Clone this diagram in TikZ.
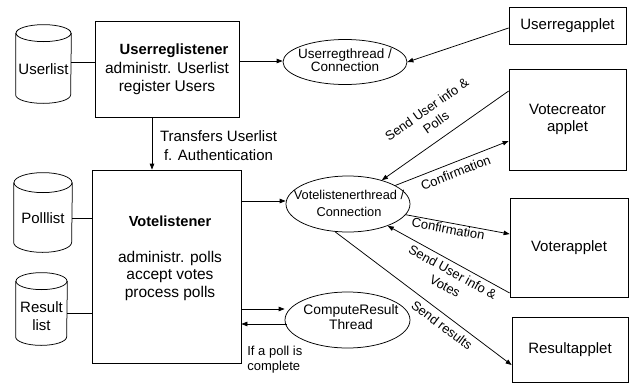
\documentclass[tikz,border=0pt]{standalone}
\usepackage{fontspec}
\setmainfont{Liberation Sans}
\usetikzlibrary{arrows.meta,shapes.geometric}
% cylinder: name, cx, cy(px, downwards), w, h, ry, text offset, text
\newcommand\dbcyl[8]{%
  \node[minimum width=#4pt, minimum height=#5pt, inner sep=0pt] (#1) at (#2,-#3) {};
  \draw ([yshift=-#6pt]#1.north west) -- ([yshift=#6pt]#1.south west)
     arc[start angle=180, end angle=360, x radius=#4/2, y radius=#6] -- ([yshift=-#6pt]#1.north east);
  \draw ([yshift=-#6pt]#1.north) ellipse[x radius=#4/2, y radius=#6];
  \node[midtxt] (#1t) at ([yshift=-#7pt]#1.center) {#8};
}
\begin{document}
\begin{tikzpicture}[x=1pt,y=1pt,
  line width=0.75pt,
  arr/.style={-{Triangle[length=6pt,width=4.5pt]}},
  box/.style={draw, rectangle, inner sep=0pt},
  oval/.style={draw, ellipse, inner sep=0pt},
  bigtxt/.style={align=center, font=\fontsize{15.5}{18.5}\selectfont, inner sep=0pt},
  midtxt/.style={align=center, font=\fontsize{15}{18}\selectfont, inner sep=0pt},
  smalltxt/.style={align=center, font=\fontsize{13.3}{15}\selectfont, inner sep=0pt},
  lbl/.style={font=\fontsize{13}{16}\selectfont, align=center, inner sep=0pt},
]
\useasboundingbox (0,0) rectangle (629,-383);
\fill[white] (0,0) rectangle (629,-383);

% databases
\dbcyl{ul}{43.5}{64}{55}{78}{8.5}{5}{Userlist}
\dbcyl{pl}{43}{212.5}{58}{79}{10}{5.5}{Polllist}
\dbcyl{rl}{41.5}{309}{51}{72}{8.5}{7.5}{Result\\list}

% listener boxes
\node[box, minimum width=144pt, minimum height=96pt] (url) at (167,-69) {};
\node[bigtxt] (urlt) at (167,-69.5) {\hspace*{14pt}{\fontsize{14.8}{18.5}\selectfont\bfseries Userreglistener}\\administr. Userlist\\register Users};
\node[box, minimum width=149pt, minimum height=193pt] (vl) at (166.5,-266.5) {};
\node[bigtxt, font=\fontsize{15.5}{17.75}\selectfont] (vlx) at (170,-258.5) {{\fontsize{14.6}{17.75}\selectfont\bfseries Votelistener}\\[17.5pt]administr. polls\\accept votes\\process polls};

% threads
\node[oval, minimum width=124pt, minimum height=45pt] (urt) at (345,-62) {};
\node[smalltxt, font=\fontsize{13.5}{13.6}\selectfont] (urtx) at (345,-60) {Userregthread /\\Connection};
\node[oval, minimum width=124pt, minimum height=56pt] (vlt) at (348,-204) {};
\node[smalltxt, font=\fontsize{12.8}{16.7}\selectfont] (vltx) at (349,-203.5) {Votelistenerthread /\\Connection};
\node[oval, minimum width=125pt, minimum height=56pt] (crt) at (347.5,-320) {};
\node[smalltxt, font=\fontsize{13.8}{15}\selectfont] (crtx) at (351,-317.5) {ComputeResult\\Thread};

% applets
\node[box, midtxt, minimum width=117pt, minimum height=37pt] (ura) at (567.5,-25.5) {Userregapplet};
\node[box, midtxt, minimum width=117pt, minimum height=101pt, font=\fontsize{15}{17}\selectfont] (vca) at (567.5,-119.5) {Votecreator\\applet};
\node[box, midtxt, minimum width=118pt, minimum height=99pt] (va) at (569,-247.5) {Voterapplet};
\node[box, midtxt, minimum width=116pt, minimum height=65pt] (ra) at (570,-349.5) {Resultapplet};

% left connections
\coordinate (l1) at ([yshift=2pt]ul.east);
\draw (l1) -- (url.west |- l1);
\coordinate (l2) at ([yshift=-5.5pt]pl.east);
\draw (l2) -- (vl.west |- l2);
\coordinate (l3) at ([yshift=-4pt]rl.east);
\draw (l3) -- (vl.west |- l3);

% transfers
\coordinate (t1) at ([xshift=-15pt]url.south);
\draw[arr] (t1) -- (t1 |- vl.north);
\node[midtxt, font=\fontsize{15}{19}\selectfont] (trl) at (218.5,-145.5) {Transfers Userlist\\f. Authentication};

% userreg connections
\coordinate (u1) at ([yshift=1pt]urt.west);
\draw[arr] (url.east |- u1) -- (u1);
\draw[arr] ([yshift=-2.5pt]ura.west) -- (urt.east);

% votelistener to thread
\coordinate (v1) at ([yshift=3pt]vlt.west);
\draw[arr] (vl.east |- v1) -- (v1);

% votecreator
\draw[arr] ([yshift=28.5pt]vca.west) -- node[lbl, sloped, above=11pt] {Send User info \&\\Polls} (vlt);
\draw[arr] (vlt) -- node[lbl, sloped, below=5pt] {Confirmation} ([yshift=-21.5pt]vca.west);

% voter
\draw[arr] (vlt) -- node[lbl, sloped, below=1pt, pos=0.42] {Confirmation} ([yshift=13.5pt]va.west);
\draw[arr] ([yshift=-45.5pt]va.west) -- node[lbl, sloped, below=4pt, pos=0.43] {Send User info \&\\Votes} (vlt);

% results
\draw[arr] (vlt.245) -- node[lbl, sloped, below=5pt, pos=0.64] {Send results} ([yshift=-15.5pt]ra.west);

% compute result
\coordinate (c1) at ([yshift=11pt]crt.west);
\draw[arr] (vl.east |- c1) -- (c1);
\coordinate (c2) at ([yshift=-4pt, xshift=2pt]crt.west);
\draw[arr] (c2) -- (vl.east |- c2);
\node[lbl, align=left, anchor=west, font=\fontsize{13}{15}\selectfont] (ifp) at (247,-359.5) {If a poll is\\complete};
\end{tikzpicture}
\end{document}
